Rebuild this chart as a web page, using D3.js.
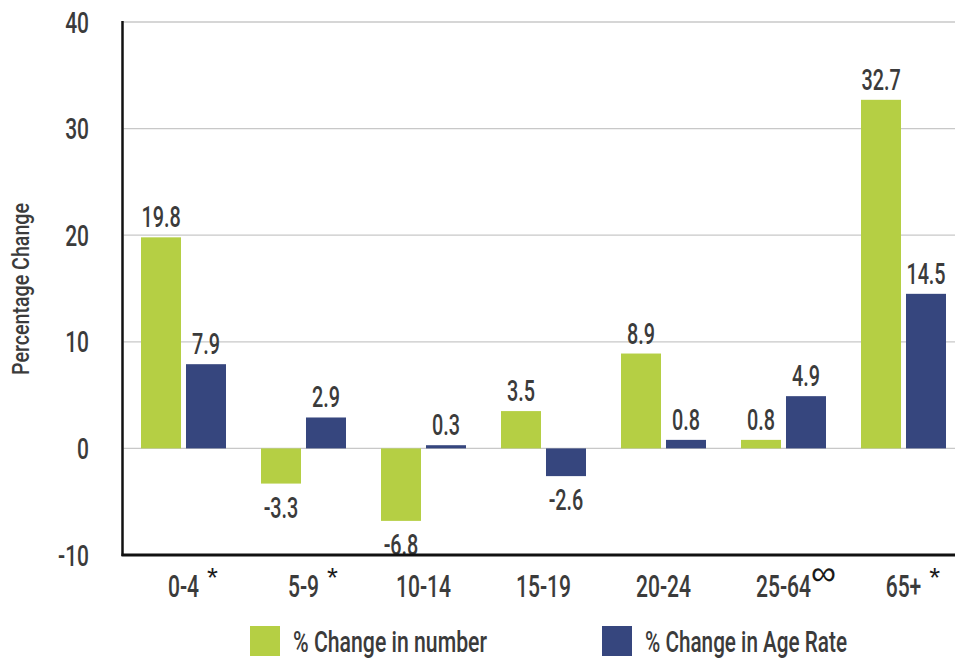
<!DOCTYPE html>
<html>
<head>
<meta charset="utf-8">
<script src="https://cdn.jsdelivr.net/npm/d3@7"></script>
<style>
  body { margin: 0; background: white; }
  text { font-family: Roboto, "Noto Sans", sans-serif; font-weight: 500; }
</style>
</head>
<body>
<svg width="955" height="658"></svg>
<script>
const categories = ["0-4", "5-9", "10-14", "15-19", "20-24", "25-64", "65+"];
const marks = ["*", "*", "", "", "", "\u221E", "*"];
const numberChange = [19.8, -3.3, -6.8, 3.5, 8.9, 0.8, 32.7];
const ageRateChange = [7.9, 2.9, 0.3, -2.6, 0.8, 4.9, 14.5];
const seriesNames = ["% Change in number", "% Change in Age Rate"];
const seriesColors = ["#b5cf44", "#36467e"];
const yTicks = [-10, 0, 10, 20, 30, 40];

const svg = d3.select('svg');
const width = +svg.attr('width');
const height = +svg.attr('height');
const textColor = '#3b3b3b';

const data = categories.map((c, i) => ({
  cat: c,
  mark: marks[i],
  values: [numberChange[i], ageRateChange[i]]
}));

const left = 123.5;
const x0 = d3.scaleBand().domain(categories).range([left, left + 840]);
const x1 = d3.scaleBand().domain([0, 1]).range([17.5, 102.5]).paddingInner(0.111);
const y = d3.scaleLinear().domain([-10, 40]).range([555, 22]);

// gridlines
svg.append('g').selectAll('line').data(yTicks.filter(t => t > -10))
  .enter().append('line')
  .attr('x1', left).attr('x2', width)
  .attr('y1', d => y(d)).attr('y2', d => y(d))
  .attr('stroke', '#c8c8c8').attr('stroke-width', 1.3);

// condensed text helper (no condensed font installed, so squeeze horizontally)
const sq = 0.66;
const txt = (sel, x, yy, s, size, sx, anchor) =>
  sel.append('text')
    .attr('transform', `translate(${x},${yy}) scale(${sx},1)`)
    .attr('text-anchor', anchor)
    .attr('font-size', size)
    .attr('fill', textColor)
    .text(s);

// bars
const groups = svg.append('g').selectAll('g').data(data)
  .enter().append('g')
  .attr('transform', d => `translate(${x0(d.cat)},0)`);

groups.selectAll('rect').data(d => d.values)
  .enter().append('rect')
  .attr('x', (v, i) => x1(i))
  .attr('width', x1.bandwidth())
  .attr('y', v => y(Math.max(0, v)))
  .attr('height', v => Math.abs(y(v) - y(0)))
  .attr('fill', (v, i) => seriesColors[i]);

// value labels
groups.each(function(d) {
  const g = d3.select(this);
  d.values.forEach((v, i) => {
    const cx = x1(i) + x1.bandwidth() / 2;
    const yy = v >= 0 ? y(v) - 10 : y(v) + 34;
    txt(g, cx, yy, v.toFixed(1), 30, sq, 'middle');
  });
});

// y tick labels
const yAxis = svg.append('g');
yTicks.forEach(t => {
  txt(yAxis, 89, y(t) + 10.5, t, 30, sq + 0.04, 'end');
});

// y title
svg.append('text')
  .attr('transform', `translate(29,289) rotate(-90)`)
  .attr('text-anchor', 'middle')
  .attr('font-size', 23)
  .attr('fill', textColor)
  .attr('textLength', 172)
  .attr('lengthAdjust', 'spacingAndGlyphs')
  .text('Percentage Change');

// x labels
const xAxis = svg.append('g');
data.forEach(d => {
  const cx = x0(d.cat) + x0.bandwidth() / 2;
  const t = txt(xAxis, cx, 597, d.cat, 31, sq + 0.02, 'middle');
  const w = t.node().getComputedTextLength() * (sq + 0.02);
  if (d.mark === '*') {
    xAxis.append('text')
      .attr('x', cx + w / 2 + 8).attr('y', 587)
      .style('font-family', '"Liberation Sans", sans-serif')
      .style('font-weight', 400)
      .attr('font-size', 28)
      .attr('fill', '#1a1a1a')
      .text(d.mark);
  } else if (d.mark) {
    xAxis.append('text')
      .attr('x', cx + w / 2).attr('y', 585)
      .style('font-family', '"DejaVu Sans", sans-serif')
      .style('font-weight', 200)
      .attr('font-size', 35)
      .attr('fill', '#1a1a1a')
      .text(d.mark);
  }
});

// axis lines
svg.append('line')
  .attr('x1', left - 1).attr('x2', left - 1)
  .attr('y1', 21).attr('y2', 556)
  .attr('stroke', '#111').attr('stroke-width', 2.5);
svg.append('line')
  .attr('x1', left - 2).attr('x2', width)
  .attr('y1', y(-10)).attr('y2', y(-10))
  .attr('stroke', '#111').attr('stroke-width', 3);

// legend
const legendX = [250, 602];
const legendLen = [194, 202];
seriesNames.forEach((name, i) => {
  svg.append('rect')
    .attr('x', legendX[i]).attr('y', 626)
    .attr('width', 30).attr('height', 30)
    .attr('fill', seriesColors[i]);
  svg.append('text')
    .attr('x', legendX[i] + 43).attr('y', 652)
    .attr('font-size', 30)
    .attr('fill', textColor)
    .attr('textLength', legendLen[i])
    .attr('lengthAdjust', 'spacingAndGlyphs')
    .text(name);
});
</script>
</body>
</html>
